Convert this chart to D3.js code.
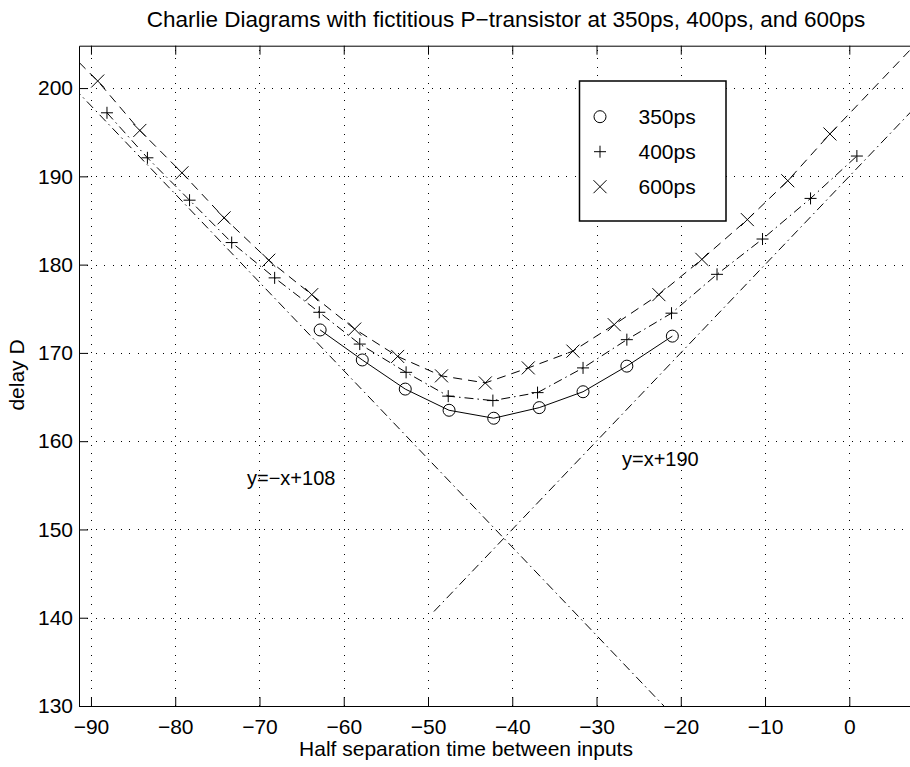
<!DOCTYPE html>
<html>
<head>
<meta charset="utf-8">
<script src="https://cdn.jsdelivr.net/npm/d3@7"></script>
<style>
    body { margin: 0; background: #fff; }
    svg { font-family: "Liberation Sans", Arial, sans-serif; }
    .grid line { stroke: #000; stroke-dasharray: 1,7.4; shape-rendering: crispEdges; }
    .grid path { display: none; }
    .axis path, .axis line { stroke: #000; }
    .axis text { font-size: 21px; fill: #000; }
</style>
</head>
<body>
<script>
// marker positions
var x350 = [-62.8, -57.8, -52.7, -47.5, -42.2, -36.8, -31.6, -26.4, -21.0],
    y350 = [172.6, 169.2, 165.9, 163.5, 162.6, 163.8, 165.6, 168.5, 171.9];

var x400 = [-88.1, -83.3, -78.3, -73.3, -68.2, -62.9, -58.1, -52.6, -47.6,
            -42.3, -37.0, -31.6, -26.4, -21.1, -15.7, -10.3, -4.6, 0.9],
    y400 = [197.2, 192.1, 187.3, 182.5, 178.5, 174.6, 171.0, 167.8, 165.1,
            164.6, 165.5, 168.3, 171.5, 174.5, 178.9, 182.9, 187.5, 192.3];

var x600 = [-89.2, -84.2, -79.2, -74.2, -68.9, -63.8, -58.7, -53.6, -48.4,
            -43.2, -38.1, -32.8, -27.9, -22.6, -17.5, -12.1, -7.3, -2.3],
    y600 = [200.8, 195.2, 190.4, 185.3, 180.5, 176.6, 172.7, 169.6, 167.4,
            166.6, 168.3, 170.2, 173.2, 176.6, 180.6, 185.1, 189.5, 194.8];

// where the 600ps line leaves the axes box
var x600ends = [-91.4, 7.2],
    y600ends = [202.9, 204.3];

// the two asymptotes
var asymLeftX = [-92, -22],
    asymLeftY = [200, 130],
    asymRightX = [-49.3, 10],
    asymRightY = [140.7, 200];

var xTicks = [-90, -80, -70, -60, -50, -40, -30, -20, -10, 0],
    yTicks = [130, 140, 150, 160, 170, 180, 190, 200];

var legendLabels = ['350ps', '400ps', '600ps'];

var padLeft = 79, padTop = 45.7, padBottom = 706;

var svg = d3.select('body').append('svg')
        .attr('width', 910)
        .attr('height', 767),
    xScale = d3.scaleLinear().domain([-91.42, 10.8]).range([padLeft, padLeft + 102.22 * 8.426]),
    yScale = d3.scaleLinear().domain([130, 204.8]).range([padBottom, padTop]),
    padRight = xScale(10.8),
    w = padRight - padLeft,
    h = padBottom - padTop;

var zip = function(xs, ys) {
    return xs.map(function(x, i) { return [x, ys[i]]; });
};

var line = d3.line()
    .x(function(d) { return xScale(d[0]); })
    .y(function(d) { return yScale(d[1]); });

svg.append('defs').append('clipPath')
    .attr('id', 'plotclip')
    .append('rect')
    .attr('x', padLeft)
    .attr('y', padTop)
    .attr('width', w)
    .attr('height', h);

// grid
svg.append('g')
    .attr('class', 'grid')
    .attr('transform', 'translate(0,' + padBottom + ')')
    .call(d3.axisBottom(xScale).tickValues(xTicks).tickSize(-h).tickFormat(''));

svg.append('g')
    .attr('class', 'grid')
    .attr('transform', 'translate(' + padLeft + ',0)')
    .call(d3.axisLeft(yScale).tickValues(yTicks).tickSize(-w).tickFormat(''));

// axes box with inward ticks
svg.append('g')
    .attr('class', 'axis')
    .attr('transform', 'translate(0,' + padBottom + ')')
    .call(d3.axisBottom(xScale).tickValues(xTicks).tickSizeInner(-9).tickSizeOuter(0).tickPadding(13));

svg.append('g')
    .attr('class', 'axis')
    .attr('transform', 'translate(0,' + padTop + ')')
    .call(d3.axisTop(xScale).tickValues(xTicks).tickSizeInner(-9).tickSizeOuter(0).tickFormat(''));

svg.append('g')
    .attr('class', 'axis')
    .attr('transform', 'translate(' + padLeft + ',0)')
    .call(d3.axisLeft(yScale).tickValues(yTicks).tickSizeInner(-9).tickSizeOuter(0).tickPadding(6));

var plot = svg.append('g')
    .attr('clip-path', 'url(#plotclip)');

var dashDot = '9,4,1.5,4',
    dashed = '9,6';

// asymptotes
[[asymLeftX, asymLeftY], [asymRightX, asymRightY]].forEach(function(a) {
    plot.append('path')
        .datum(zip(a[0], a[1]))
        .attr('d', line)
        .attr('fill', 'none')
        .attr('stroke', '#000')
        .attr('stroke-width', 1)
        .attr('stroke-dasharray', dashDot);
});

var pts350 = zip(x350, y350),
    pts400 = zip(x400, y400),
    pts600 = zip(x600, y600),
    line600 = [[x600ends[0], y600ends[0]]].concat(pts600, [[x600ends[1], y600ends[1]]]);

plot.append('path')
    .datum(pts350)
    .attr('d', line)
    .attr('fill', 'none')
    .attr('stroke', '#000')
    .attr('stroke-width', 1);

plot.append('path')
    .datum(pts400)
    .attr('d', line)
    .attr('fill', 'none')
    .attr('stroke', '#000')
    .attr('stroke-width', 1)
    .attr('stroke-dasharray', dashDot);

plot.append('path')
    .datum(line600)
    .attr('d', line)
    .attr('fill', 'none')
    .attr('stroke', '#000')
    .attr('stroke-width', 1)
    .attr('stroke-dasharray', dashed);

var symbols = [
    function(g) { g.append('circle').attr('r', 6); },
    function(g) { g.append('path').attr('d', 'M-6,0H6M0,-6V6'); },
    function(g) { g.append('path').attr('d', 'M-6.5,-6.5L6.5,6.5M-6.5,6.5L6.5,-6.5'); }
];

[pts350, pts400, pts600].forEach(function(pts, k) {
    plot.append('g').selectAll('.mk' + k)
        .data(pts)
        .enter()
        .append('g')
        .attr('class', 'mk' + k)
        .attr('transform', function(d) { return 'translate(' + xScale(d[0]) + ',' + yScale(d[1]) + ')'; })
        .attr('fill', 'none')
        .attr('stroke', '#000')
        .attr('stroke-width', 1)
        .each(function() { symbols[k](d3.select(this)); });
});

// annotations
svg.append('text')
    .attr('x', 247)
    .attr('y', 485)
    .style('font-size', '20px')
    .text('y=\u2212x+108');

svg.append('text')
    .attr('x', 622)
    .attr('y', 466)
    .style('font-size', '20px')
    .text('y=x+190');

// legend
var legend = svg.append('g')
    .attr('transform', 'translate(579.5,81)');

legend.append('rect')
    .attr('width', 146.5)
    .attr('height', 140)
    .attr('fill', '#fff')
    .attr('stroke', '#000')
    .attr('stroke-width', 1.5);

var items = legend.selectAll('.legend')
    .data(legendLabels)
    .enter()
    .append('g')
    .attr('class', 'legend')
    .attr('transform', function(d, i) { return 'translate(0,' + (35.7 + i * 35) + ')'; });

items.append('g')
    .attr('transform', 'translate(20.5,0)')
    .attr('fill', 'none')
    .attr('stroke', '#000')
    .attr('stroke-width', 1)
    .each(function(d, i) { symbols[i](d3.select(this)); });

items.append('text')
    .attr('x', 59)
    .attr('dy', '.35em')
    .style('font-size', '21px')
    .text(function(d) { return d; });

// titles
svg.append('text')
    .attr('x', 506)
    .attr('y', 27)
    .attr('text-anchor', 'middle')
    .style('font-size', '22.5px')
    .text('Charlie Diagrams with fictitious P\u2212transistor at 350ps, 400ps, and 600ps');

svg.append('text')
    .attr('x', 466)
    .attr('y', 756)
    .attr('text-anchor', 'middle')
    .style('font-size', '21px')
    .text('Half separation time between inputs');

svg.append('text')
    .attr('transform', 'translate(24,375) rotate(-90)')
    .attr('text-anchor', 'middle')
    .style('font-size', '21px')
    .text('delay D');
</script>
</body>
</html>
